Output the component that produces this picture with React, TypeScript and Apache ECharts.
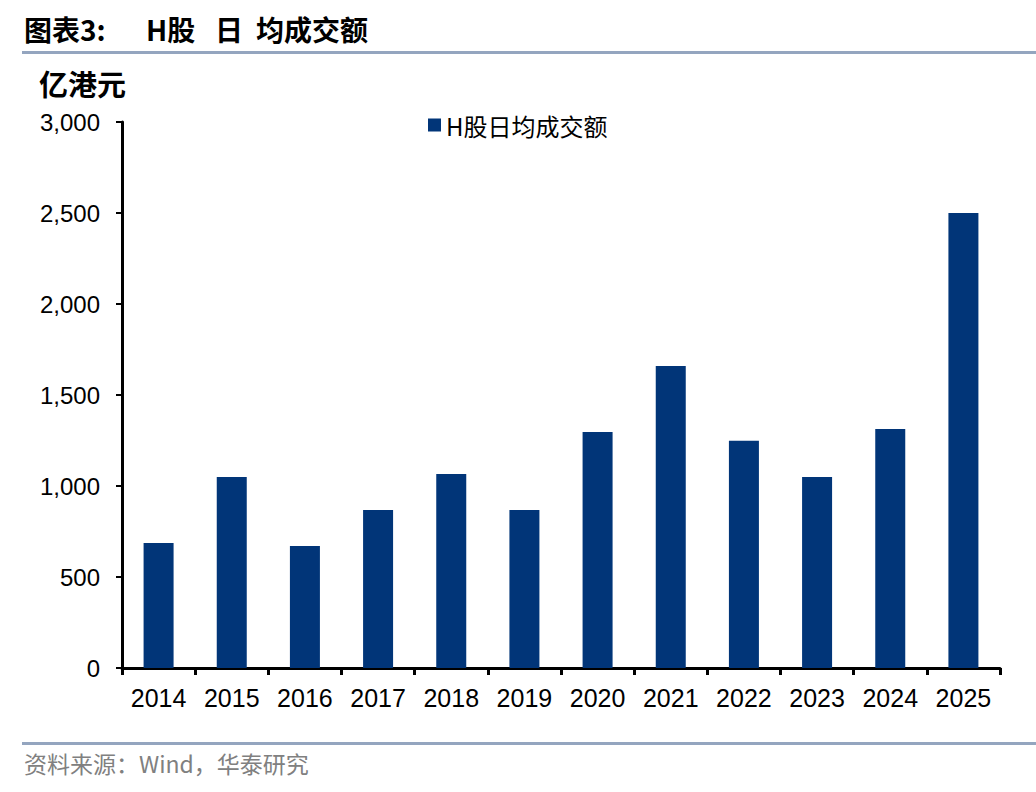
import React, { useEffect, useRef } from "react";
import * as echarts from "echarts";

const categories = ["2014", "2015", "2016", "2017", "2018", "2019", "2020", "2021", "2022", "2023", "2024", "2025"];
const values = [687, 1050, 670, 868, 1066, 868, 1297, 1660, 1248, 1050, 1313, 2500];
const seriesName = "H股日均成交额";
const yTicks = { min: 0, max: 3000, interval: 500 };

export default function App() {
  const ref = useRef<HTMLDivElement>(null);
  useEffect(() => {
    const chart = echarts.init(ref.current!, null, { renderer: "svg" });
    const font = "'Liberation Sans', Arial, sans-serif";
    const cjk = "'Noto Sans CJK SC', sans-serif";
    const titleStyle = { fontSize: 28, fontWeight: "bold", fill: "#000", fontFamily: cjk };
    chart.setOption({
      animation: false,
      backgroundColor: "#ffffff",
      grid: { left: 122, top: 122, right: 36, bottom: 124, containLabel: false },
      legend: {
        show: true,
        left: 423,
        top: 108,
        itemWidth: 13,
        itemHeight: 13,
        itemGap: 4,
        icon: "rect",
        textStyle: { fontSize: 24, color: "#000", fontFamily: cjk },
        data: [seriesName],
      },
      xAxis: {
        type: "category",
        data: categories,
        boundaryGap: true,
        axisLine: { show: true, lineStyle: { color: "#000", width: 3 } },
        axisTick: { show: true, alignWithLabel: false, length: 7, lineStyle: { color: "#000", width: 3 } },
        axisLabel: { fontSize: 25, color: "#000", fontFamily: font, margin: 17 },
      },
      yAxis: {
        type: "value",
        min: yTicks.min,
        max: yTicks.max,
        interval: yTicks.interval,
        splitLine: { show: false },
        axisLine: { show: true, lineStyle: { color: "#000", width: 3 } },
        axisTick: { show: true, length: 6, lineStyle: { color: "#000", width: 2 } },
        axisLabel: {
          fontSize: 24,
          color: "#000",
          fontFamily: font,
          margin: 22,
          formatter: (v: number) => v.toLocaleString("en-US"),
        },
      },
      series: [
        {
          name: seriesName,
          type: "bar",
          data: values,
          barWidth: 30,
          itemStyle: { color: "#013578" },
        },
      ],
      graphic: [
        { type: "text", left: 24, top: 15, style: { ...titleStyle, text: "图表3:" } },
        { type: "text", left: 146, top: 15, style: { ...titleStyle, text: "H股" } },
        { type: "text", left: 215, top: 15, style: { ...titleStyle, text: "日" } },
        { type: "text", left: 256, top: 15, style: { ...titleStyle, text: "均成交额" } },
        {
          type: "rect",
          shape: { x: 22, y: 51, width: 1014, height: 3 },
          style: { fill: "#94a5bf" },
        },
        {
          type: "text",
          left: 39,
          top: 68,
          style: { text: "亿港元", fontSize: 29, fill: "#000", fontFamily: cjk, fontWeight: "bold" },
        },
        {
          type: "rect",
          shape: { x: 22, y: 742, width: 1014, height: 3 },
          style: { fill: "#94a5bf" },
        },
        {
          type: "text",
          left: 24,
          top: 751,
          style: { text: "资料来源：Wind，华泰研究", fontSize: 23, fill: "#808080", fontFamily: cjk },
        },
      ],
    });
    return () => chart.dispose();
  }, []);
  return <div ref={ref} style={{ width: 1036, height: 792, position: "absolute", left: 0, top: 0 }} />;
}
